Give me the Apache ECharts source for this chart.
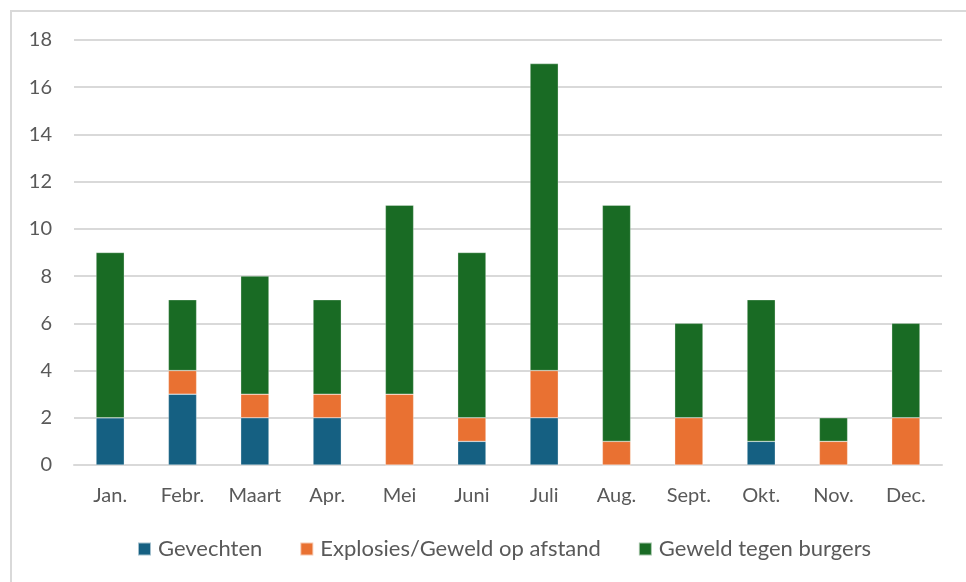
<!DOCTYPE html>
<html>
<head>
<meta charset="utf-8">
<script src="https://cdn.jsdelivr.net/npm/echarts@6/dist/echarts.min.js"></script>
<style>html,body{margin:0;padding:0;background:#fff}#c{width:966px;height:582px}</style>
</head>
<body>
<div id="c"></div>
<script>
const categories = ['Jan.', 'Febr.', 'Maart', 'Apr.', 'Mei', 'Juni', 'Juli', 'Aug.', 'Sept.', 'Okt.', 'Nov.', 'Dec.'];
const gevechten = [2, 3, 2, 2, 0, 1, 2, 0, 0, 1, 0, 0];
const explosies = [0, 1, 1, 1, 3, 1, 2, 1, 2, 0, 1, 2];
const burgers = [7, 3, 5, 4, 8, 7, 13, 10, 4, 6, 1, 4];
const seriesNames = ['Gevechten', 'Explosies/Geweld op afstand', 'Geweld tegen burgers'];
const colors = ['#156082', '#E97132', '#196B24'];

const chart = echarts.init(document.getElementById('c'), null, {renderer: 'canvas'});
const font = 'Lato, "Noto Sans", sans-serif';
const mk = (name, data, color) => ({
  name, type: 'bar', stack: 'total', data, barWidth: '39%',
  itemStyle: {color, borderColor: 'rgba(255,255,255,0.6)', borderWidth: 0.5},
  emphasis: {disabled: true}
});
chart.setOption({
  animation: false,
  color: colors,
  graphic: [{
    type: 'rect', shape: {x: 11, y: 11, width: 1000, height: 700},
    style: {fill: 'none', stroke: '#d9d9d9', lineWidth: 2}, silent: true
  }],
  grid: {left: 74, right: 24, top: 40, bottom: 117, containLabel: false},
  legend: {
    bottom: 17, left: 132, itemWidth: 13, itemHeight: 13, itemGap: 37,
    icon: 'rect',
    textStyle: {color: '#595959', fontSize: 22, fontFamily: font, padding: [0, 0, 0, 2]},
    data: seriesNames
  },
  xAxis: {
    type: 'category', data: categories,
    axisLine: {show: true, lineStyle: {color: '#d9d9d9', width: 2}},
    axisTick: {show: false},
    axisLabel: {color: '#595959', fontSize: 20, fontFamily: font, margin: 21}
  },
  yAxis: {
    type: 'value', min: 0, max: 18, interval: 2,
    axisLine: {show: false}, axisTick: {show: false},
    splitLine: {lineStyle: {color: '#d9d9d9', width: 2}},
    axisLabel: {color: '#595959', fontSize: 20, fontFamily: font, margin: 22}
  },
  series: [
    mk(seriesNames[0], gevechten, colors[0]),
    mk(seriesNames[1], explosies, colors[1]),
    mk(seriesNames[2], burgers, colors[2])
  ]
});
</script>
</body>
</html>
